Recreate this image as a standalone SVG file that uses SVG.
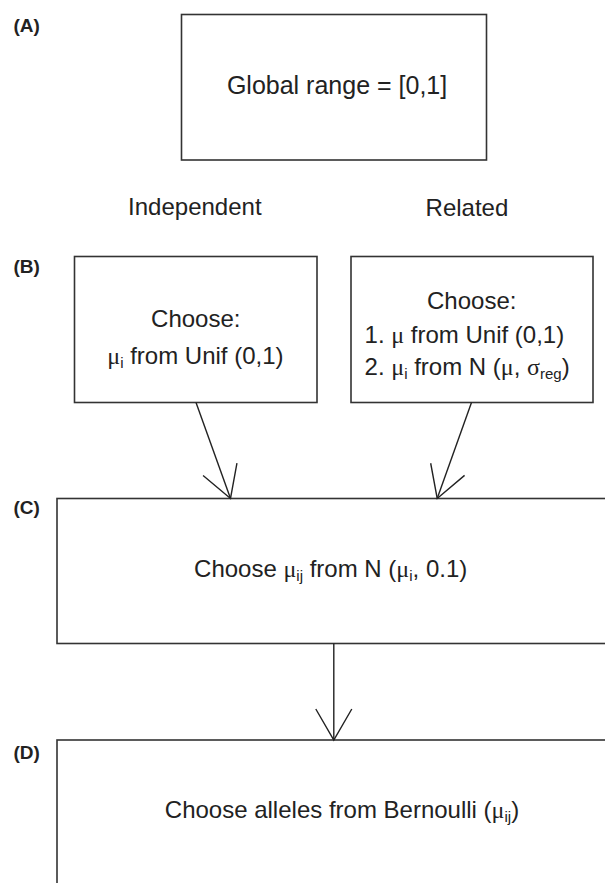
<svg xmlns="http://www.w3.org/2000/svg" width="605" height="883" viewBox="0 0 605 883">
<style>
.box{fill:#fff;stroke:#333;stroke-width:1.6}
.t{font-family:"Liberation Sans",Arial,sans-serif;font-size:24px;fill:#222}
.g{font-family:"Liberation Serif","Times New Roman",serif}
.lbl{font-family:"Liberation Sans",Arial,sans-serif;font-size:19px;font-weight:bold;fill:#222}
.conn{stroke:#222;stroke-width:1.4;fill:none}
</style>
<defs>
<marker id="v" markerUnits="userSpaceOnUse" viewBox="-40 -22 44 44" refX="0" refY="0" markerWidth="44" markerHeight="44" orient="auto" overflow="visible">
<path d="M-31,-18 L0,0 L-31,18" fill="none" stroke="#222" stroke-width="1.4"/>
</marker>
</defs>
<rect width="605" height="883" fill="#fff"/>
<g id="labels">
<text class="lbl" x="13.5" y="31.7">(A)</text>
<text class="lbl" x="13.5" y="273.3">(B)</text>
<text class="lbl" x="13.5" y="514">(C)</text>
<text class="lbl" x="13.5" y="759.3">(D)</text>
<text class="t" x="128.1" y="214.5">Independent</text>
<text class="t" x="425.6" y="215.5">Related</text>
</g>
<g id="nodeA">
<rect class="box" x="181.5" y="14.5" width="305" height="145.5"/>
<text class="t" x="226.9" y="94.3" style="font-size:25px">Global range = [0,1]</text>
</g>
<g id="nodeB1">
<rect class="box" x="74.5" y="256.5" width="242.5" height="146"/>
<text class="t" x="195.8" y="327.3" text-anchor="middle">Choose:</text>
<text class="t" x="107.3" y="364"><tspan class="g">μ</tspan><tspan font-size="15" dy="4">i</tspan><tspan dy="-4"> from Unif (0,1)</tspan></text>
</g>
<g id="nodeB2">
<rect class="box" x="351" y="256.5" width="242" height="146"/>
<text class="t" x="471.7" y="309.3" text-anchor="middle">Choose:</text>
<text class="t" x="364.6" y="342.7">1. <tspan class="g">μ</tspan> from Unif (0,1)</text>
<text class="t" x="364.6" y="375">2. <tspan class="g">μ</tspan><tspan font-size="15" dy="4">i</tspan><tspan dy="-4"> from N (</tspan><tspan class="g">μ</tspan>, <tspan class="g">σ</tspan><tspan font-size="15" dy="4">reg</tspan><tspan dy="-4">)</tspan></text>
</g>
<g id="nodeC">
<rect class="box" x="57" y="498.5" width="570" height="145"/>
<text class="t" x="194.1" y="576.7">Choose <tspan class="g">μ</tspan><tspan font-size="15" dy="4">ij</tspan><tspan dy="-4"> from N (</tspan><tspan class="g">μ</tspan><tspan font-size="15" dy="4">i</tspan><tspan dy="-4">, 0.1)</tspan></text>
</g>
<g id="nodeD">
<rect class="box" x="57" y="740" width="570" height="170"/>
<text class="t" x="164.8" y="818.3">Choose alleles from Bernoulli (<tspan class="g">μ</tspan><tspan font-size="15" dy="4">ij</tspan><tspan dy="-4">)</tspan></text>
</g>
<g id="connectors">
<line class="conn" x1="196" y1="402.5" x2="230.5" y2="498.5" marker-end="url(#v)"/>
<line class="conn" x1="471.5" y1="402.5" x2="437.2" y2="498.5" marker-end="url(#v)"/>
<line class="conn" x1="333.8" y1="643.5" x2="333.8" y2="740" marker-end="url(#v)"/>
</g>
</svg>
